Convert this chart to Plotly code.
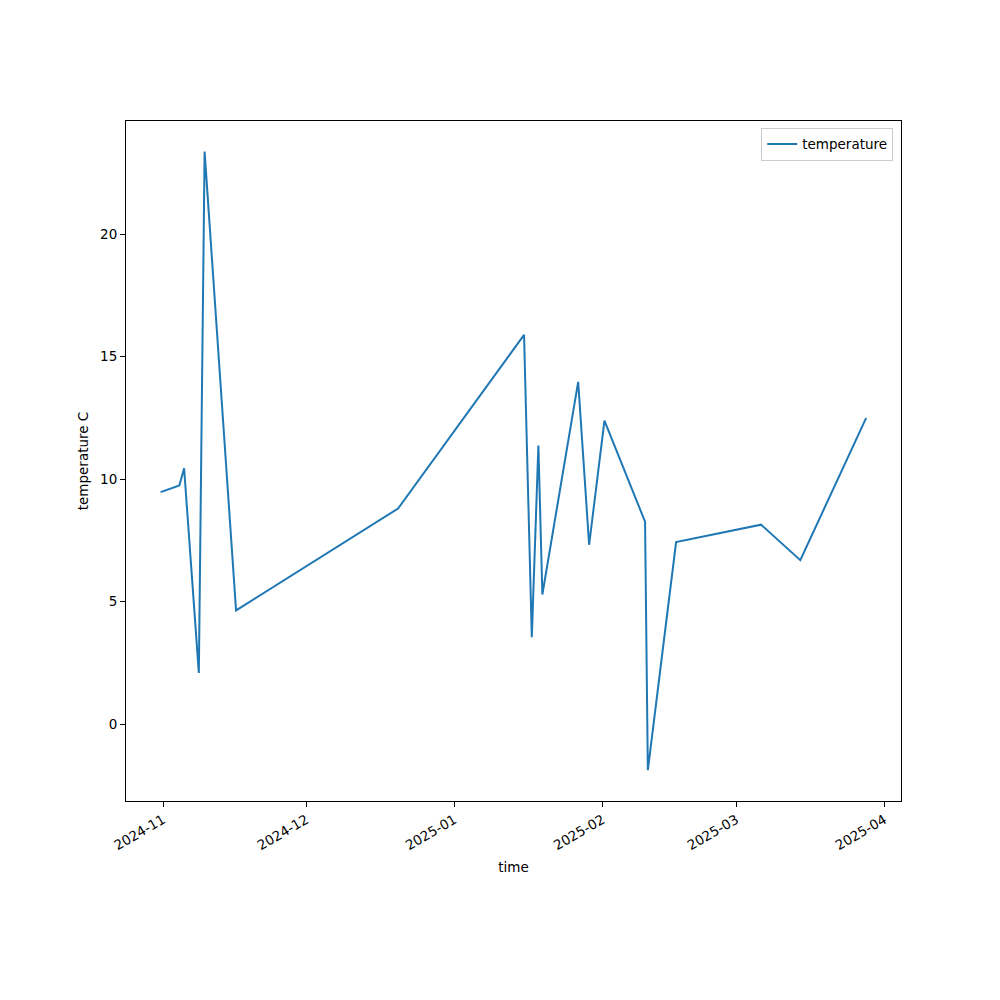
import plotly.graph_objects as go

times = [
    "2024-10-31 12:00", "2024-11-04 10:00", "2024-11-05 10:00", "2024-11-08 12:00",
    "2024-11-09 17:00", "2024-11-16 07:00", "2024-12-20 05:00", "2025-01-15 14:00",
    "2025-01-17 05:00", "2025-01-18 14:00", "2025-01-19 10:00", "2025-01-26 22:00",
    "2025-01-29 05:00", "2025-02-01 10:00", "2025-02-09 22:00", "2025-02-10 12:00",
    "2025-02-16 10:00", "2025-03-06 05:00", "2025-03-14 10:00", "2025-03-28 05:00",
]
temperature = [
    9.47, 9.74, 10.44, 2.09, 23.37, 4.64, 8.8, 15.89, 3.55, 11.37,
    5.29, 13.97, 7.32, 12.39, 8.26, -1.88, 7.43, 8.14, 6.69, 12.5,
]
tick_vals = ["2024-11-01", "2024-12-01", "2025-01-01", "2025-02-01", "2025-03-01", "2025-04-01"]
tick_text = ["2024-11", "2024-12", "2025-01", "2025-02", "2025-03", "2025-04"]

font = dict(family="DejaVu Sans", size=13.5, color="black")

fig = go.Figure()
fig.add_trace(go.Scatter(x=times, y=temperature, mode="lines", name="temperature",
                         line=dict(color="#1f77b4", width=2)))

fig.update_layout(
    width=1000, height=1000,
    margin=dict(l=118, r=107, t=113, b=207),
    plot_bgcolor="white", paper_bgcolor="white",
    font=font,
    showlegend=True,
    legend=dict(x=0.99, y=0.99, xanchor="right", yanchor="top",
                bordercolor="#cccccc", borderwidth=1, bgcolor="white",
                font=font),
    xaxis=dict(
        type="date", range=["2024-10-24 06:00", "2025-04-04 12:00"],
        tickvals=tick_vals, ticktext=tick_text, tickangle=-30,
        showgrid=False, zeroline=False, showline=True, linecolor="black", linewidth=1,
        mirror=True, ticks="outside", ticklen=5, tickcolor="black",
        title=dict(text="time", font=font, standoff=10),
    ),
    yaxis=dict(
        range=[-3.14, 24.62], tickvals=[0, 5, 10, 15, 20],
        showgrid=False, zeroline=False, showline=True, linecolor="black", linewidth=1,
        mirror=True, ticks="outside", ticklen=5, tickcolor="black",
        title=dict(text="temperature C", font=font, standoff=8),
    ),
)

fig.write_html("out.html")
